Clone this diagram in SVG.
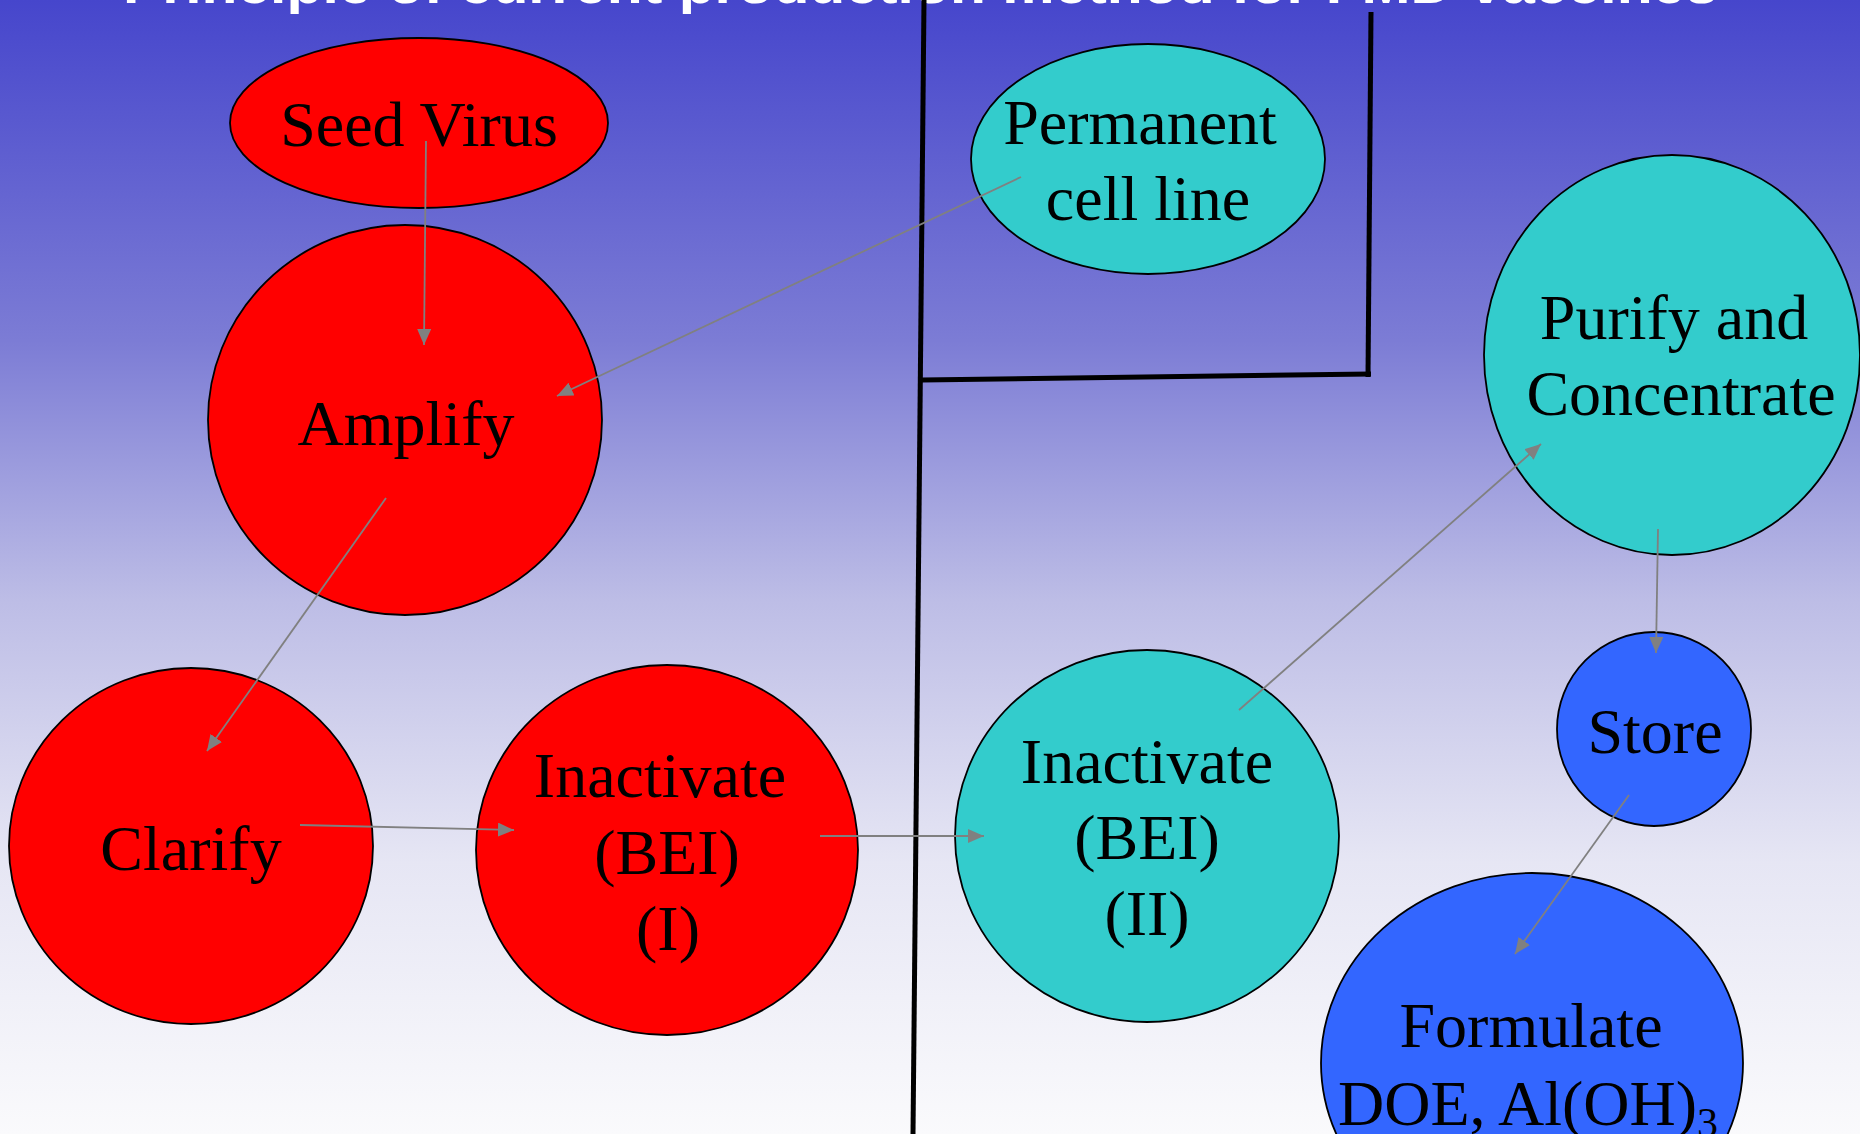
<svg xmlns="http://www.w3.org/2000/svg" width="1860" height="1134" viewBox="0 0 1860 1134">
<defs>
<linearGradient id="bg" x1="0" y1="0" x2="0" y2="1">
<stop offset="0" stop-color="#4646CC"/>
<stop offset="0.3" stop-color="#7C7CD5"/>
<stop offset="0.53" stop-color="#BDBDE6"/>
<stop offset="0.76" stop-color="#E6E6F4"/>
<stop offset="1" stop-color="#FAFAFC"/>
</linearGradient>
<marker id="arr" markerUnits="userSpaceOnUse" markerWidth="17" markerHeight="15" refX="16" refY="7" orient="auto">
<path d="M0,0 L16,7 L0,14 z" fill="#808080"/>
</marker>
<style>
.red{fill:#FF0000;stroke:#000;stroke-width:1.8}
.teal{fill:#33CCCC;stroke:#000;stroke-width:1.8}
.blue{fill:#3366FF;stroke:#000;stroke-width:1.8}
.t{font-family:"Liberation Serif","Times New Roman",serif;font-size:64px;fill:#000;text-anchor:middle}
.c{stroke:#808080;stroke-width:1.8;fill:none;marker-end:url(#arr)}
.bar{stroke:#000;stroke-width:5;fill:none}
</style>
</defs>
<rect width="1860" height="1134" fill="url(#bg)"/>
<text x="123" y="3" font-family="Liberation Sans, Arial, sans-serif" font-size="54" font-weight="bold" fill="#FFFFFF" textLength="1595" lengthAdjust="spacingAndGlyphs">Principle of current production method for FMD vaccines</text>
<g id="dividers">
<path class="bar" d="M924,0 L913,1134"/>
<path class="bar" d="M922,380 L1371,374"/>
<path class="bar" d="M1371,12 L1368,377"/>
</g>
<g id="seed-virus">
<ellipse class="red" cx="419" cy="123" rx="189" ry="85"/>
<text class="t" x="419" y="146">Seed Virus</text>
</g>
<g id="amplify">
<ellipse class="red" cx="405" cy="420" rx="197" ry="195"/>
<text class="t" x="406" y="445">Amplify</text>
</g>
<g id="permanent-cell-line">
<ellipse class="teal" cx="1148" cy="159" rx="177" ry="115"/>
<text class="t" x="1140" y="144">Permanent</text>
<text class="t" x="1148" y="220">cell line</text>
</g>
<g id="purify">
<ellipse class="teal" cx="1672" cy="355" rx="188" ry="200"/>
<text class="t" x="1674" y="339">Purify and</text>
<text class="t" x="1681" y="415">Concentrate</text>
</g>
<g id="clarify">
<ellipse class="red" cx="191" cy="846" rx="182" ry="178"/>
<text class="t" x="191" y="870">Clarify</text>
</g>
<g id="inactivate-1">
<ellipse class="red" cx="667" cy="850" rx="191" ry="185"/>
<text class="t" x="660" y="797">Inactivate</text>
<text class="t" x="667" y="874">(BEI)</text>
<text class="t" x="668" y="950">(I)</text>
</g>
<g id="inactivate-2">
<ellipse class="teal" cx="1147" cy="836" rx="192" ry="186"/>
<text class="t" x="1147" y="783">Inactivate</text>
<text class="t" x="1147" y="859">(BEI)</text>
<text class="t" x="1147" y="935">(II)</text>
</g>
<g id="store">
<ellipse class="blue" cx="1654" cy="729" rx="97" ry="97"/>
<text class="t" x="1655" y="753">Store</text>
</g>
<g id="formulate">
<ellipse class="blue" cx="1532" cy="1063" rx="211" ry="190"/>
<text class="t" x="1531" y="1047">Formulate</text>
<text class="t" x="1338" y="1125" style="text-anchor:start">DOE, Al(OH)<tspan font-size="42" dy="12">3</tspan></text>
</g>
<g id="connectors">
<path class="c" d="M426,141 L424,345"/>
<path class="c" d="M1021,177 L557,396"/>
<path class="c" d="M386,498 L207,751"/>
<path class="c" d="M300,825 L514,830"/>
<path class="c" d="M820,836 L984,836"/>
<path class="c" d="M1239,710 L1541,444"/>
<path class="c" d="M1658,529 L1656,653"/>
<path class="c" d="M1629,795 L1515,954"/>
</g>
</svg>
